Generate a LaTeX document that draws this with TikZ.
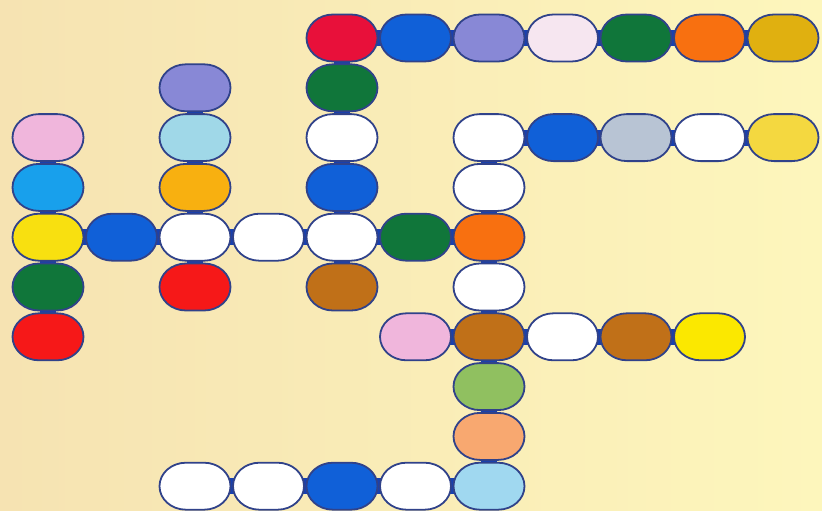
\documentclass[tikz,border=0pt]{standalone}
\pgfdeclarelayer{bg}
\pgfdeclarelayer{jt}
\pgfsetlayers{bg,jt,main}
\definecolor{bgL}{RGB}{246,227,178}
\definecolor{bgR}{RGB}{253,246,188}
\definecolor{edge}{RGB}{48,66,138}
\definecolor{jointc}{RGB}{24,64,176}
\definecolor{cRed}{RGB}{232,16,58}
\definecolor{cRedB}{RGB}{246,24,24}
\definecolor{cBlue}{RGB}{16,96,216}
\definecolor{cLav}{RGB}{136,136,214}
\definecolor{cPale}{RGB}{246,230,240}
\definecolor{cGreen}{RGB}{16,118,58}
\definecolor{cOrange}{RGB}{248,112,16}
\definecolor{cGold}{RGB}{224,176,16}
\definecolor{cPink}{RGB}{240,182,220}
\definecolor{cLtBlue}{RGB}{160,216,232}
\definecolor{cBlueGray}{RGB}{184,196,212}
\definecolor{cYellowA}{RGB}{244,216,64}
\definecolor{cSky}{RGB}{24,160,236}
\definecolor{cAmber}{RGB}{248,176,16}
\definecolor{cYellowB}{RGB}{248,224,16}
\definecolor{cBrown}{RGB}{192,112,24}
\definecolor{cYellowC}{RGB}{251,232,0}
\definecolor{cLtGreen}{RGB}{144,192,96}
\definecolor{cPeach}{RGB}{248,168,112}
\definecolor{cLtBlueB}{RGB}{160,216,240}
\tikzset{
  pillstyle/.style={draw=edge, line width=1.8pt},
  joint/.style={draw=jointc, line width=16pt},
}
\newcommand\pill[4]{%
  \coordinate (#1) at ({48+73.5*#2},{38+49.8*#3});
  \filldraw[pillstyle, fill=#4] (#1) ++(-9,-23.5) -- ++(18,0)
    arc[start angle=270, end angle=450, x radius=26.5, y radius=23.5]
    -- ++(-18,0)
    arc[start angle=90, end angle=270, x radius=26.5, y radius=23.5] -- cycle;}
\begin{document}
\begin{tikzpicture}[x=1pt,y=-1pt]
\begin{pgfonlayer}{bg}
\shade[left color=bgL, right color=bgR] (0,0) rectangle (822,511);
\end{pgfonlayer}
\useasboundingbox (0,0) rectangle (822,511);
% row 0
\pill{n04}{4}{0}{cRed}
\pill{n05}{5}{0}{cBlue}
\pill{n06}{6}{0}{cLav}
\pill{n07}{7}{0}{cPale}
\pill{n08}{8}{0}{cGreen}
\pill{n09}{9}{0}{cOrange}
\pill{n010}{10}{0}{cGold}
% row 1
\pill{n12}{2}{1}{cLav}
\pill{n14}{4}{1}{cGreen}
% row 2
\pill{n20}{0}{2}{cPink}
\pill{n22}{2}{2}{cLtBlue}
\pill{n24}{4}{2}{white}
\pill{n26}{6}{2}{white}
\pill{n27}{7}{2}{cBlue}
\pill{n28}{8}{2}{cBlueGray}
\pill{n29}{9}{2}{white}
\pill{n210}{10}{2}{cYellowA}
% row 3
\pill{n30}{0}{3}{cSky}
\pill{n32}{2}{3}{cAmber}
\pill{n34}{4}{3}{cBlue}
\pill{n36}{6}{3}{white}
% row 4
\pill{n40}{0}{4}{cYellowB}
\pill{n41}{1}{4}{cBlue}
\pill{n42}{2}{4}{white}
\pill{n43}{3}{4}{white}
\pill{n44}{4}{4}{white}
\pill{n45}{5}{4}{cGreen}
\pill{n46}{6}{4}{cOrange}
% row 5
\pill{n50}{0}{5}{cGreen}
\pill{n52}{2}{5}{cRedB}
\pill{n54}{4}{5}{cBrown}
\pill{n56}{6}{5}{white}
% row 6
\pill{n60}{0}{6}{cRedB}
\pill{n65}{5}{6}{cPink}
\pill{n66}{6}{6}{cBrown}
\pill{n67}{7}{6}{white}
\pill{n68}{8}{6}{cBrown}
\pill{n69}{9}{6}{cYellowC}
% rows 7, 8
\pill{n76}{6}{7}{cLtGreen}
\pill{n86}{6}{8}{cPeach}
% row 9
\pill{n92}{2}{9}{white}
\pill{n93}{3}{9}{white}
\pill{n94}{4}{9}{cBlue}
\pill{n95}{5}{9}{white}
\pill{n96}{6}{9}{cLtBlueB}
% joints
\begin{pgfonlayer}{jt}
\foreach \a/\b in {n04/n05,n05/n06,n06/n07,n07/n08,n08/n09,n09/n010,
  n26/n27,n27/n28,n28/n29,n29/n210,
  n40/n41,n41/n42,n42/n43,n43/n44,n44/n45,n45/n46,
  n65/n66,n66/n67,n67/n68,n68/n69,
  n92/n93,n93/n94,n94/n95,n95/n96,
  n20/n30,n30/n40,n40/n50,n50/n60,
  n12/n22,n22/n32,n32/n42,n42/n52,
  n04/n14,n14/n24,n24/n34,n34/n44,n44/n54,
  n26/n36,n36/n46,n46/n56,n56/n66,n66/n76,n76/n86,n86/n96}
  \draw[joint] (\a) -- (\b);
\end{pgfonlayer}
\end{tikzpicture}
\end{document}
